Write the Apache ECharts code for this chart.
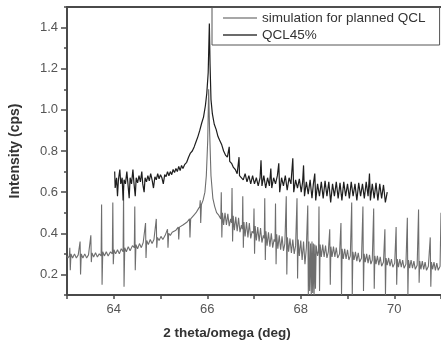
<!DOCTYPE html>
<html>
<head>
<meta charset="utf-8">
<script src="https://cdn.jsdelivr.net/npm/echarts@6/dist/echarts.min.js"></script>
<style>
  html, body { margin: 0; padding: 0; background: #fff; }
  #chart { width: 441px; height: 344px; }
</style>
</head>
<body>
<div id="chart"></div>
<script>
// [2theta, intensity]
const simPoints = [
  [63.00,0.29],[63.02,0.28],[63.05,0.29],[63.06,0.33],[63.07,0.22],[63.085,0.30],[63.12,0.28],[63.16,0.30],[63.20,0.28],[63.24,0.295],
  [63.27,0.29],[63.28,0.36],[63.29,0.20],[63.305,0.30],[63.34,0.28],[63.38,0.30],[63.42,0.28],[63.46,0.295],
  [63.50,0.29],[63.51,0.39],[63.52,0.26],[63.535,0.305],[63.57,0.285],[63.61,0.305],[63.65,0.285],[63.69,0.30],
  [63.73,0.29],[63.74,0.54],[63.75,0.15],[63.765,0.31],[63.80,0.29],[63.84,0.31],[63.88,0.29],[63.93,0.31],
  [63.97,0.30],[63.98,0.55],[63.99,0.25],[64.005,0.32],[64.04,0.30],[64.08,0.32],[64.12,0.30],[64.16,0.325],
  [64.20,0.31],[64.21,0.60],[64.22,0.14],[64.235,0.33],[64.27,0.31],[64.31,0.335],[64.35,0.315],[64.40,0.34],
  [64.44,0.33],[64.45,0.53],[64.46,0.22],[64.475,0.345],[64.51,0.325],[64.55,0.35],[64.59,0.33],[64.63,0.355],
  [64.67,0.35],[64.68,0.45],[64.69,0.28],[64.705,0.365],[64.74,0.345],[64.78,0.37],[64.82,0.35],[64.86,0.37],
  [64.90,0.365],[64.91,0.47],[64.92,0.33],[64.935,0.38],[64.97,0.365],[65.01,0.385],[65.05,0.37],[65.10,0.39],
  [65.14,0.385],[65.15,0.42],[65.16,0.33],[65.175,0.40],[65.21,0.39],[65.25,0.405],[65.29,0.40],[65.33,0.415],
  [65.37,0.42],[65.38,0.43],[65.39,0.37],[65.405,0.43],[65.44,0.425],[65.48,0.44],[65.52,0.44],[65.57,0.455],
  [65.61,0.46],[65.62,0.47],[65.63,0.38],[65.645,0.47],[65.68,0.475],[65.72,0.49],[65.76,0.50],[65.80,0.515],
  [65.84,0.53],[65.85,0.56],[65.86,0.45],[65.875,0.54],[65.91,0.56],[65.95,0.60],[65.98,0.68],[66.01,0.85],[66.03,1.10],
  [66.05,0.90],[66.08,0.68],[66.12,0.57],[66.16,0.53],[66.20,0.50],[66.24,0.49],
  [66.29,0.47],[66.30,0.60],[66.312,0.38],[66.325,0.50],[66.35,0.44],[66.38,0.50],[66.41,0.44],[66.44,0.495],[66.47,0.435],[66.50,0.47],
  [66.52,0.45],[66.53,0.62],[66.542,0.36],[66.555,0.485],[66.58,0.415],[66.61,0.48],[66.64,0.41],[66.67,0.475],[66.70,0.405],[66.73,0.44],
  [66.75,0.42],[66.76,0.58],[66.772,0.33],[66.785,0.455],[66.81,0.385],[66.84,0.455],[66.87,0.38],[66.90,0.45],[66.93,0.375],[66.96,0.41],
  [66.99,0.40],[67.00,0.52],[67.012,0.30],[67.025,0.435],[67.05,0.365],[67.08,0.43],[67.11,0.36],[67.14,0.425],[67.17,0.355],[67.20,0.39],
  [67.22,0.375],[67.23,0.57],[67.242,0.27],[67.255,0.41],[67.28,0.34],[67.31,0.405],[67.34,0.335],[67.37,0.40],[67.40,0.33],[67.43,0.37],
  [67.45,0.36],[67.46,0.545],[67.472,0.25],[67.485,0.395],[67.51,0.325],[67.54,0.39],[67.57,0.32],[67.60,0.385],[67.63,0.315],[67.66,0.35],
  [67.68,0.345],[67.69,0.58],[67.702,0.20],[67.715,0.38],[67.74,0.31],[67.77,0.375],[67.80,0.305],[67.83,0.37],[67.86,0.30],[67.89,0.34],
  [67.91,0.335],[67.92,0.57],[67.932,0.18],[67.945,0.37],[67.97,0.29],[68.00,0.365],[68.03,0.27],[68.06,0.36],[68.09,0.25],[68.12,0.33],
  [68.14,0.33],[68.15,0.535],[68.162,0.10],[68.175,0.36],[68.19,0.12],[68.21,0.35],[68.225,0.10],[68.24,0.36],[68.255,0.11],[68.27,0.35],
  [68.285,0.10],[68.30,0.345],[68.315,0.13],[68.33,0.34],[68.36,0.29],
  [68.38,0.315],[68.39,0.53],[68.402,0.12],[68.415,0.345],[68.44,0.285],[68.47,0.345],[68.50,0.285],[68.53,0.34],[68.56,0.28],[68.59,0.31],
  [68.61,0.31],[68.62,0.42],[68.632,0.15],[68.645,0.335],[68.67,0.285],[68.70,0.335],[68.73,0.285],[68.76,0.33],[68.79,0.28],[68.83,0.30],
  [68.85,0.30],[68.86,0.45],[68.872,0.10],[68.885,0.325],[68.91,0.275],[68.94,0.325],[68.97,0.275],[69.00,0.32],[69.03,0.27],[69.06,0.29],
  [69.08,0.29],[69.09,0.55],[69.102,0.10],[69.115,0.31],[69.14,0.27],[69.17,0.31],[69.20,0.265],[69.23,0.305],[69.26,0.26],[69.30,0.28],
  [69.32,0.28],[69.33,0.53],[69.342,0.12],[69.355,0.30],[69.38,0.26],[69.41,0.30],[69.44,0.255],[69.47,0.295],[69.50,0.25],[69.53,0.27],
  [69.55,0.27],[69.56,0.52],[69.572,0.13],[69.585,0.29],[69.61,0.25],[69.64,0.29],[69.67,0.245],[69.70,0.285],[69.73,0.24],[69.77,0.26],
  [69.79,0.262],[69.80,0.42],[69.812,0.10],[69.825,0.28],[69.85,0.245],[69.88,0.28],[69.91,0.24],[69.94,0.275],[69.97,0.235],[70.01,0.255],
  [70.03,0.255],[70.04,0.43],[70.052,0.15],[70.065,0.275],[70.09,0.235],[70.12,0.275],[70.15,0.235],[70.18,0.27],[70.21,0.23],[70.25,0.25],
  [70.27,0.25],[70.28,0.475],[70.292,0.10],[70.305,0.27],[70.33,0.23],[70.36,0.27],[70.39,0.23],[70.42,0.265],[70.45,0.225],[70.49,0.245],
  [70.51,0.245],[70.52,0.515],[70.532,0.16],[70.545,0.265],[70.57,0.225],[70.60,0.265],[70.63,0.225],[70.66,0.26],[70.69,0.22],[70.73,0.24],
  [70.76,0.242],[70.77,0.38],[70.782,0.14],[70.795,0.26],[70.82,0.225],[70.85,0.26],[70.88,0.22],[70.91,0.255],[70.94,0.22],[70.98,0.24],
  [71.00,0.50]
];

const qclPoints = [
  [64.02,0.70],[64.03,0.62],[64.06,0.67],[64.08,0.58],[64.10,0.66],[64.13,0.71],[64.15,0.64],[64.18,0.67],
  [64.20,0.56],[64.22,0.66],[64.25,0.64],[64.28,0.70],[64.30,0.65],[64.33,0.57],[64.35,0.67],[64.38,0.64],
  [64.41,0.71],[64.43,0.65],[64.46,0.58],[64.48,0.67],[64.51,0.645],[64.54,0.68],[64.57,0.65],[64.60,0.70],
  [64.62,0.64],[64.65,0.60],[64.67,0.67],[64.70,0.65],[64.73,0.68],[64.76,0.655],[64.79,0.69],[64.82,0.66],
  [64.85,0.62],[64.88,0.675],[64.91,0.66],[64.94,0.69],[64.97,0.665],[65.00,0.685],[65.03,0.67],[65.06,0.64],
  [65.09,0.685],[65.12,0.675],[65.15,0.70],[65.18,0.68],[65.21,0.70],[65.24,0.685],[65.27,0.71],[65.30,0.695],
  [65.33,0.715],[65.36,0.70],[65.39,0.725],[65.42,0.705],[65.45,0.73],[65.48,0.715],[65.52,0.735],[65.56,0.745],
  [65.60,0.77],[65.64,0.79],[65.68,0.80],[65.72,0.82],[65.76,0.845],[65.80,0.87],[65.84,0.90],[65.88,0.935],
  [65.92,0.965],[65.96,1.02],[65.99,1.08],[66.02,1.18],[66.045,1.42],[66.06,1.22],[66.08,1.05],[66.11,0.98],
  [66.15,0.93],[66.19,0.905],[66.23,0.87],[66.27,0.85],[66.31,0.83],[66.35,0.80],[66.39,0.78],[66.43,0.77],
  [66.46,0.765],[66.47,0.82],[66.48,0.75],[66.52,0.74],[66.56,0.72],[66.60,0.71],[66.64,0.69],[66.67,0.69],[66.68,0.77],[66.69,0.68],
  [66.73,0.68],[66.77,0.66],[66.81,0.69],[66.85,0.65],[66.89,0.68],[66.93,0.64],[66.97,0.68],[67.01,0.64],
  [67.05,0.67],[67.09,0.63],[67.13,0.67],[67.15,0.755],[67.17,0.63],[67.21,0.68],[67.25,0.62],[67.29,0.67],
  [67.33,0.63],[67.36,0.715],[67.38,0.62],[67.42,0.67],[67.46,0.64],[67.50,0.68],[67.53,0.74],[67.55,0.60],
  [67.59,0.67],[67.63,0.63],[67.67,0.68],[67.71,0.61],[67.75,0.67],[67.79,0.64],[67.83,0.765],[67.85,0.60],
  [67.89,0.66],[67.93,0.62],[67.97,0.665],[68.01,0.60],[68.04,0.65],[68.06,0.73],[68.08,0.58],[68.12,0.65],[68.16,0.59],
  [68.20,0.66],[68.24,0.57],[68.27,0.64],[68.30,0.69],[68.32,0.56],[68.36,0.64],[68.40,0.58],[68.44,0.65],
  [68.48,0.57],[68.52,0.655],[68.56,0.58],[68.60,0.65],[68.64,0.55],[68.68,0.64],[68.72,0.58],[68.76,0.65],
  [68.80,0.57],[68.84,0.645],[68.88,0.56],[68.92,0.65],[68.96,0.58],[69.00,0.64],[69.04,0.57],[69.08,0.65],
  [69.12,0.58],[69.16,0.64],[69.20,0.56],[69.24,0.645],[69.28,0.58],[69.32,0.64],[69.36,0.57],[69.40,0.65],
  [69.44,0.58],[69.47,0.69],[69.49,0.56],[69.53,0.64],[69.57,0.57],[69.61,0.645],[69.65,0.56],[69.69,0.64],
  [69.73,0.57],[69.77,0.635],[69.81,0.55],[69.85,0.60]
];

const seriesNames = ['simulation for planned QCL', 'QCL45%'];
const xLabelTicks = [64, 66, 68, 70];
const yLabelTicks = [0.2, 0.4, 0.6, 0.8, 1.0, 1.2, 1.4];

const chart = echarts.init(document.getElementById('chart'));
const font = '"Liberation Sans", Arial, sans-serif';
const axisColor = '#4a4a4a';

chart.setOption({
  animation: false,
  textStyle: { fontFamily: font },
  grid: { left: 64, right: -1, top: 7, bottom: 49 },
  legend: {
    left: 212,
    top: 7,
    orient: 'vertical',
    icon: 'rect',
    padding: [4, 14, 3, 11],
    itemGap: 3,
    itemWidth: 34,
    itemHeight: 1.5,
    borderColor: '#555',
    borderWidth: 1,
    textStyle: { fontSize: 13.5, lineHeight: 14, color: '#333', fontFamily: font },
    data: seriesNames
  },
  graphic: [{
    type: 'text',
    x: 227,
    y: 333,
    style: {
      text: '2 theta/omega (deg)',
      fill: '#333',
      font: 'bold 13.5px ' + font,
      align: 'center',
      verticalAlign: 'middle'
    }
  }],
  xAxis: [{
    type: 'value',
    min: 63,
    max: 71,
    interval: 1,
    splitLine: { show: false },
    axisLine: { lineStyle: { color: axisColor, width: 2 } },
    axisTick: { length: 4, lineStyle: { color: axisColor, width: 1.5 } },
    axisLabel: {
      customValues: xLabelTicks,
      margin: 8,
      fontSize: 13,
      color: '#555',
      fontFamily: font
    }
  }, {
    type: 'value',
    position: 'top',
    min: 63,
    max: 71,
    splitLine: { show: false },
    axisLine: { lineStyle: { color: axisColor, width: 2 } },
    axisTick: { show: false },
    axisLabel: { show: false }
  }],
  yAxis: [{
    type: 'value',
    min: 0.1,
    max: 1.5,
    interval: 0.1,
    name: 'Intensity (cps)',
    nameLocation: 'middle',
    nameGap: 45,
    nameTextStyle: { fontSize: 14, fontWeight: 'bold', color: '#333', fontFamily: font },
    splitLine: { show: false },
    axisLine: { show: true, lineStyle: { color: axisColor, width: 2 } },
    axisTick: { customValues: yLabelTicks, length: 6, lineStyle: { color: axisColor, width: 1.5 } },
    axisLabel: {
      customValues: yLabelTicks,
      margin: 9,
      fontSize: 13,
      color: '#555',
      fontFamily: font,
      formatter: (v) => v.toFixed(1)
    }
  }, {
    type: 'value',
    position: 'left',
    min: 0.1,
    max: 1.5,
    interval: 0.1,
    splitLine: { show: false },
    axisLine: { show: false },
    axisTick: { show: true, length: 3, lineStyle: { color: axisColor, width: 1.5 } },
    axisLabel: { show: false }
  }],
  series: [{
    name: seriesNames[0],
    type: 'line',
    data: simPoints,
    symbol: 'none',
    sampling: false,
    lineStyle: { color: '#6e6e6e', width: 1.1 },
    itemStyle: { color: '#8a8a8a' }
  }, {
    name: seriesNames[1],
    type: 'line',
    data: qclPoints,
    symbol: 'none',
    lineStyle: { color: '#1e1e1e', width: 1.2 },
    itemStyle: { color: '#3a3a3a' }
  }]
});
</script>
</body>
</html>
